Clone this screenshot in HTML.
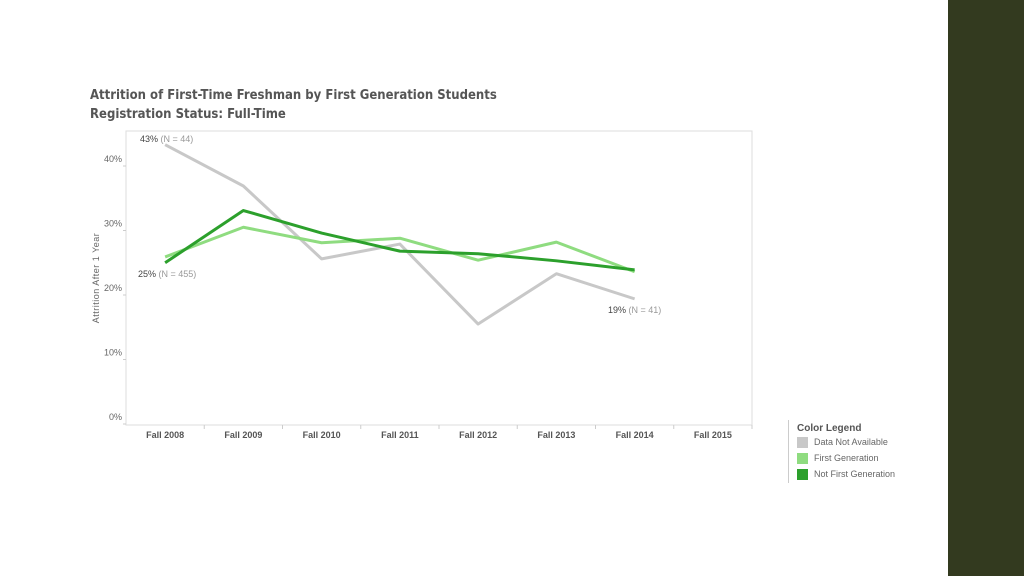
<!DOCTYPE html>
<html><head><meta charset="utf-8"><style>
body{margin:0;width:1024px;height:576px;background:#fff;position:relative;overflow:hidden;font-family:"Liberation Sans",sans-serif}
.t{position:absolute;left:90px;font-family:"DejaVu Sans Condensed","DejaVu Sans",sans-serif;font-size:13px;font-weight:bold;color:#555}
#side{position:absolute;left:948px;top:0;width:76px;height:576px;background:#333a1f}
.lg{position:absolute;left:797px;font-size:9px;color:#666}
.sw{display:inline-block;width:11px;height:11px;vertical-align:middle;margin-right:6px}
</style></head><body>
<div class="t" style="top:88px">Attrition of First-Time Freshman by First Generation Students</div>
<div class="t" style="top:107px">Registration Status: Full-Time</div>
<div id="side"></div>
<svg id="c" width="1024" height="576" style="position:absolute;left:0;top:0"></svg>
<div style="position:absolute;left:788px;top:420px;height:63px;border-left:1px solid #ccc"></div>
<div class="lg" style="top:423px;font-size:10px;font-weight:bold;color:#555">Color Legend</div>
<div class="lg" style="top:437px"><span class="sw" style="background:#c8c8c8"></span>Data Not Available</div>
<div class="lg" style="top:453px"><span class="sw" style="background:#8fdc80"></span>First Generation</div>
<div class="lg" style="top:469px"><span class="sw" style="background:#2ca02c"></span>Not First Generation</div>
<script>
const categories=["Fall 2008","Fall 2009","Fall 2010","Fall 2011","Fall 2012","Fall 2013","Fall 2014","Fall 2015"];
const naVals=[43.3,36.9,25.6,27.9,15.5,23.3,19.4];
const firstVals=[25.9,30.5,28.1,28.8,25.4,28.2,23.6];
const notFirstVals=[25.0,33.1,29.6,26.8,26.4,25.3,23.9];
const yTicks=[0,10,20,30,40];
const NS="http://www.w3.org/2000/svg";
const svg=document.getElementById('c');
const L=126,R=752,T=131,B=425,step=(R-L)/categories.length;
const x=i=>L+step*(i+0.5);
const y=v=>424-v*6.45;
function mk(tag,a){const e=document.createElementNS(NS,tag);for(const k in a)e.setAttribute(k,a[k]);svg.appendChild(e);return e;}
let fr=mk('rect',{x:L,y:T,width:R-L,height:B-T,fill:'none',stroke:'#ddd'});


yTicks.forEach(v=>{let t=mk('text',{x:122,y:y(v)-4,'text-anchor':'end','font-size':9,fill:'#666','font-family':'Liberation Sans'});t.textContent=v+'%';


mk('line',{x1:L-3,x2:L,y1:y(v),y2:y(v),stroke:'#ccc'});});
categories.forEach((c,i)=>{let t=mk('text',{x:x(i),y:438,'text-anchor':'middle','font-size':9,'font-weight':'bold',fill:'#555','font-family':'Liberation Sans'});t.textContent=c;


mk('line',{x1:L+step*(i+1),x2:L+step*(i+1),y1:B,y2:B+4,stroke:'#ccc'});});
let yt=mk('text',{transform:'translate(99,278) rotate(-90)','text-anchor':'middle','font-size':9,fill:'#666','font-family':'Liberation Sans','letter-spacing':'0.5'});yt.textContent='Attrition After 1 Year';


function line(vals,col,name){let p=mk('polyline',{points:vals.map((v,i)=>x(i)+','+y(v)).join(' '),fill:'none',stroke:col,'stroke-width':3,'stroke-linejoin':'round'});

}
line(naVals,'#c8c8c8','series-data-not-available');
line(firstVals,'#8fdc80','series-first-generation');
line(notFirstVals,'#2ca02c','series-not-first-generation');
function lab(tx,ty,pct,n,name){let t=mk('text',{x:tx,y:ty,'font-size':9,fill:'#444','font-family':'Liberation Sans'});t.innerHTML=pct+'% <tspan fill="#999">(N = '+n+')</tspan>';

}
lab(140,142,Math.round(naVals[0]),44,'label-start-na');
lab(138,277,Math.round(notFirstVals[0]),455,'label-start-notfirst');
lab(608,313,Math.round(naVals[6]),41,'label-end-na');
</script>
</body></html>
